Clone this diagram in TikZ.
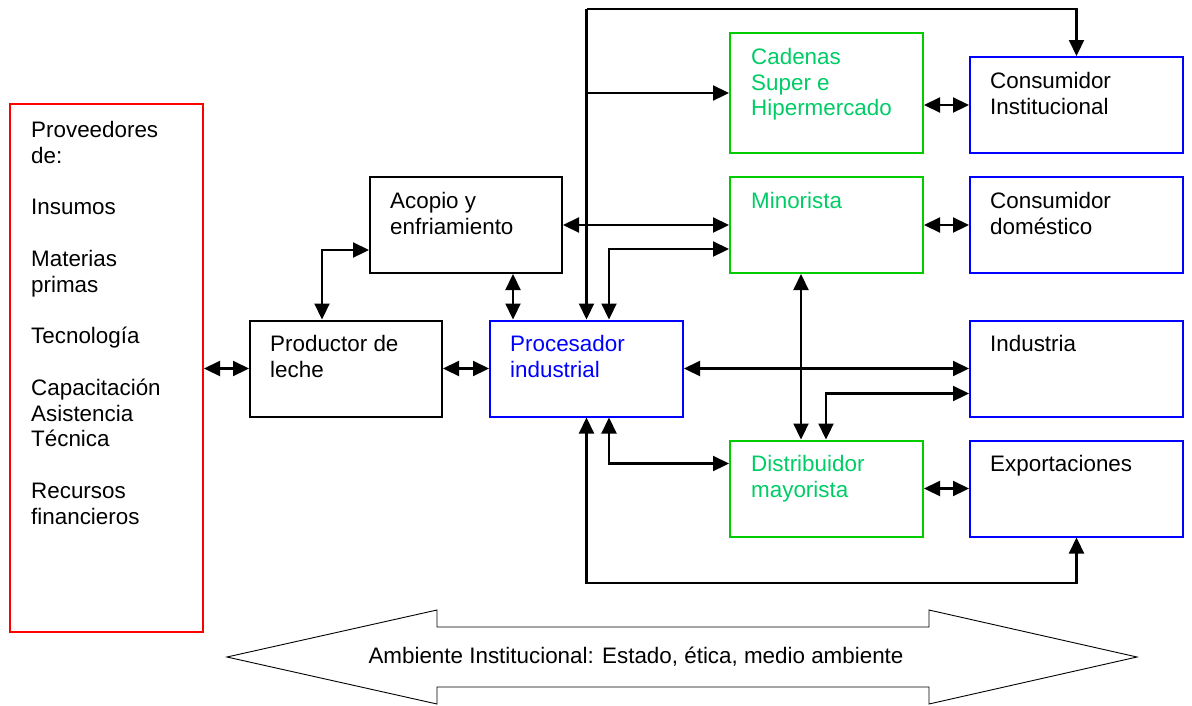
\documentclass[tikz,border=0pt]{standalone}
\usepackage{fontspec}
\setmainfont{Liberation Sans}
\usetikzlibrary{arrows.meta,calc}
\definecolor{boxred}{RGB}{255,0,0}
\definecolor{boxblue}{RGB}{0,0,255}
\definecolor{boxgreen}{RGB}{0,204,0}
\definecolor{txtgreen}{RGB}{0,204,102}
\begin{document}
\begin{tikzpicture}[x=1pt,y=-1pt,
  box/.style 2 args={draw, line width=2pt, minimum width=#1pt, minimum height=#2pt, inner sep=0pt},
  lbl/.style={anchor=north west, inner sep=0pt, align=left, font=\fontsize{22.4}{25.8}\selectfont},
  tip/.tip={Triangle[length=16pt,width=15pt]},
  one/.style={-tip, line width=2.2pt},
  dbl/.style={tip-tip, line width=2.2pt}]
\useasboundingbox (0,0) rectangle (1192,705);

% boxes
\node[box={193}{528}, draw=boxred]   (prov)   at (106.5,368) {};
\node[box={192}{96}]                 (acopio) at (466,225) {};
\node[box={192}{96}]                 (prod)   at (346,368.5) {};
\node[box={193}{96}, draw=boxblue]   (proc)   at (586.5,368.5) {};
\node[box={193}{120}, draw=boxgreen] (cad)    at (826.5,93) {};
\node[box={193}{96}, draw=boxgreen]  (mino)   at (826.5,225) {};
\node[box={193}{96}, draw=boxgreen]  (dist)   at (826.5,488.5) {};
\node[box={213}{96}, draw=boxblue]   (cinst)  at (1076.5,105) {};
\node[box={213}{96}, draw=boxblue]   (cdom)   at (1076.5,225) {};
\node[box={213}{96}, draw=boxblue]   (ind)    at (1076.5,368.5) {};
\node[box={213}{96}, draw=boxblue]   (exp)    at (1076.5,488.5) {};

% box texts
\node[lbl] (prov-t) at ($(prov.north west)+(22,17)$) {\rule{0pt}{17pt}Proveedores\\de:\\[25.8pt]Insumos\\[25.8pt]Materias\\primas\\[25.8pt]Tecnología\\[25.8pt]Capacitación\\Asistencia\\Técnica\\[25.8pt]Recursos\\financieros};
\node[lbl] (acopio-t) at ($(acopio.north west)+(21,15)$) {\rule{0pt}{17pt}Acopio y\\enfriamiento};
\node[lbl] (prod-t) at ($(prod.north west)+(21,15)$) {\rule{0pt}{17pt}Productor de\\leche};
\node[lbl, text=boxblue] (proc-t) at ($(proc.north west)+(21,15)$) {\rule{0pt}{17pt}Procesador\\industrial};
\node[lbl, text=txtgreen] (cad-t) at ($(cad.north west)+(22,15)$) {\rule{0pt}{17pt}Cadenas\\Super e\\Hipermercado};
\node[lbl, text=txtgreen] (mino-t) at ($(mino.north west)+(22,15)$) {\rule{0pt}{17pt}Minorista};
\node[lbl, text=txtgreen] (dist-t) at ($(dist.north west)+(22,15)$) {\rule{0pt}{17pt}Distribuidor\\mayorista};
\node[lbl] (cinst-t) at ($(cinst.north west)+(21,15)$) {\rule{0pt}{17pt}Consumidor\\Institucional};
\node[lbl] (cdom-t) at ($(cdom.north west)+(21,15)$) {\rule{0pt}{17pt}Consumidor\\doméstico};
\node[lbl] (ind-t) at ($(ind.north west)+(21,15)$) {\rule{0pt}{17pt}Industria};
\node[lbl] (exp-t) at ($(exp.north west)+(21,15)$) {\rule{0pt}{17pt}Exportaciones};

% helper points of the connector network
\coordinate (ctop) at (586.5,9);
\coordinate (cbot) at (586.5,583);
\coordinate (pa) at ($(proc.north west)+(24,0)$);
\coordinate (pm) at ($(proc.north west)+(120,0)$);
\coordinate (pd) at ($(proc.south west)+(120,0)$);
\coordinate (vm) at ($(mino.south west)+(72,0)$);

% connectors
\draw[dbl] (prod.west -| prov.east) -- (prod.west);
\draw[dbl] (prod.east) -- (proc.west);
\draw[dbl] ($(prod.north west)+(73,0)$) |- ($(acopio.south west)+(0,-24)$);
\draw[dbl] (pa) -- (pa |- acopio.south);
\draw[dbl] (acopio.east) -- (mino.west);
\draw[one] (ctop) -- (proc.north);
\draw[one] (ctop) -| (cinst.north);
\draw[one] (cad.west -| ctop) -- (cad.west);
\draw[dbl] (pm) |- ($(mino.south west)+(0,-25)$);
\draw[dbl] (proc.east) -- (ind.west);
\draw[dbl] (vm) -- (vm |- dist.north);
\draw[dbl] ($(ind.south west)+(0,-24)$) -| ($(dist.north west)+(97,0)$);
\draw[dbl] (pd) |- ($(dist.north west)+(0,24)$);
\draw[dbl] (proc.south) -- (cbot) -| (exp.south);
\draw[dbl] (cinst.west -| cad.east) -- (cinst.west);
\draw[dbl] (mino.east) -- (cdom.west);
\draw[dbl] (dist.east) -- (exp.west);

% institutional environment band
\draw[line width=0.9pt] (227,657) -- (437,610) -- (437,627) -- (929,627) -- (929,610)
  -- (1137,657) -- (929,704) -- (929,687) -- (437,687) -- (437,704) -- cycle;
\node[font=\fontsize{22.4}{25.8}\selectfont, inner sep=0pt] (env) at (636,657) {Ambiente Institucional: Estado, ética, medio ambiente};
\end{tikzpicture}
\end{document}
